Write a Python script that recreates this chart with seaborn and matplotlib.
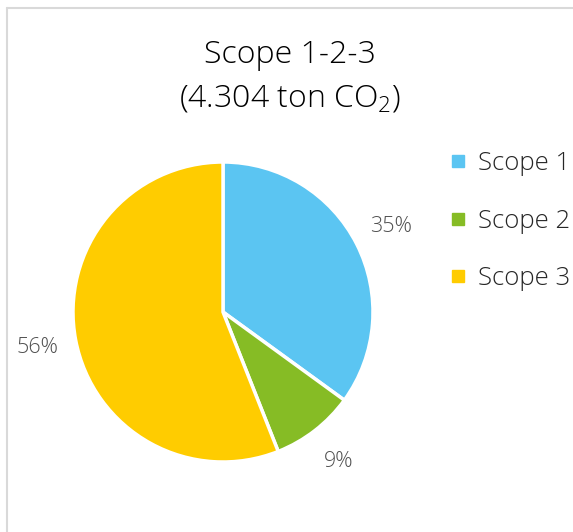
import matplotlib
matplotlib.use("Agg")
import matplotlib.pyplot as plt
import seaborn as sns
from matplotlib.lines import Line2D

sns.set_theme(style="white")
plt.rcParams['font.family'] = ['Open Sans', 'DejaVu Sans']

categories = ["Scope 1", "Scope 2", "Scope 3"]
values = [35, 9, 56]
colors = ["#5BC5F2", "#86BC25", "#FFCC00"]
title = "Scope 1-2-3\n(4.304 ton CO$_\\mathregular{2}$)"

W, H = 573, 532
fig = plt.figure(figsize=(W / 100, H / 100), dpi=100)
fig.patch.set_facecolor("white")

# frame
fig.add_artist(Line2D([6.5 / W, 1], [1 - 7.5 / H, 1 - 7.5 / H], color="#D9D9D9", lw=1.5))
fig.add_artist(Line2D([6.5 / W, 6.5 / W], [0, 1 - 7.5 / H], color="#D9D9D9", lw=1.5))

ax = fig.add_axes([73 / W, (H - 462) / H, 300 / W, 300 / H])
wedges, texts, autotexts = ax.pie(
    values, colors=colors, startangle=90, counterclock=False,
    autopct=lambda p: f"{p:.0f}%", pctdistance=1.26,
    wedgeprops=dict(edgecolor="white", linewidth=2.5),
    textprops=dict(color="#505050", fontsize=15.5, fontweight="light"),
)
ax.set_xlim(-1, 1)
ax.set_ylim(-1, 1)
ax.set_aspect("equal")
ax.axis("off")

fig.text(290 / W, 1 - 77 / H, title, ha="center", va="center", fontsize=23,
         fontweight="light", color="#000000", linespacing=1.5)

handles = [Line2D([], [], marker="s", linestyle="", markersize=9, color=c) for c in colors]
fig.legend(handles, categories, loc="upper left", bbox_to_anchor=(448 / W, 1 - 151 / H),
           frameon=False, labelspacing=1.27, handletextpad=0.35,
           handlelength=0.8, borderpad=0, borderaxespad=0,
           prop=dict(size=18.5, weight="light"))

fig.savefig("out.png", dpi=100)
